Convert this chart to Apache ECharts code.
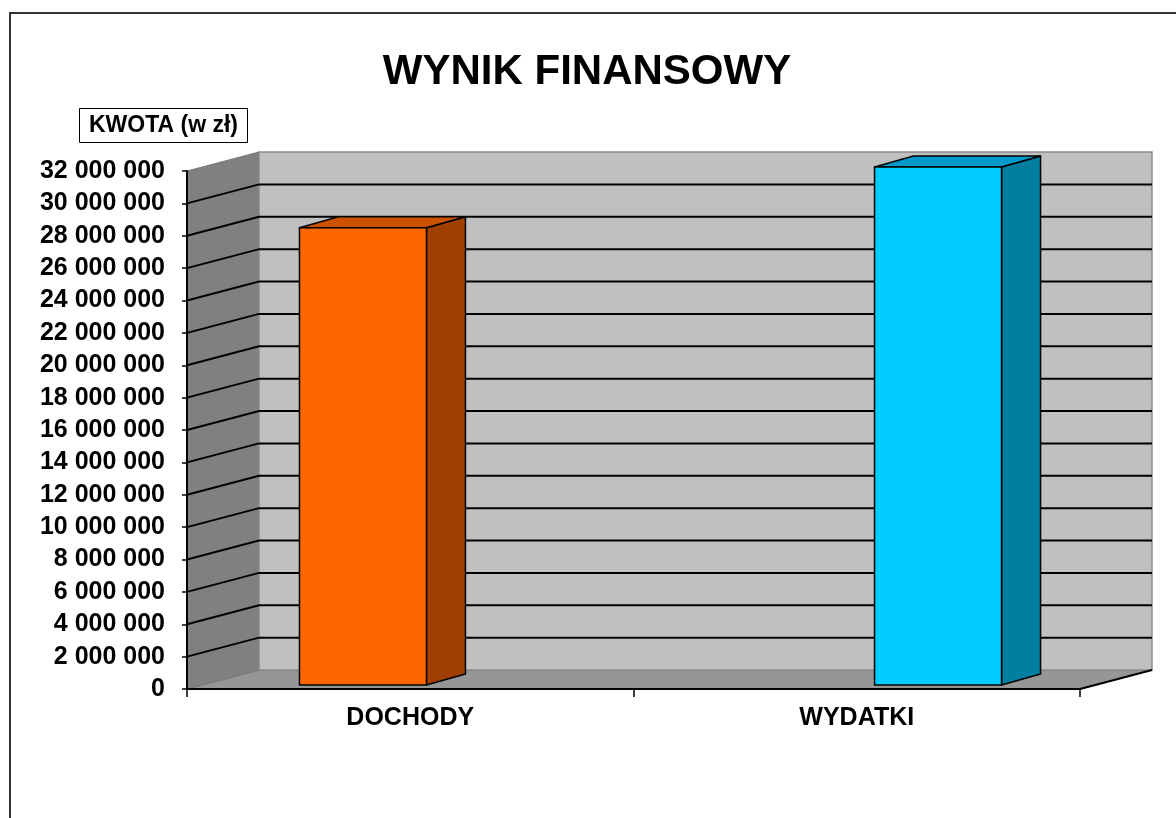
<!DOCTYPE html>
<html>
<head>
<meta charset="utf-8">
<title>WYNIK FINANSOWY</title>
<script src="https://cdn.jsdelivr.net/npm/echarts@6/dist/echarts.min.js"></script>
<style>
  html, body { margin: 0; padding: 0; background: #fff; }
  #chart { width: 1176px; height: 818px; }
</style>
</head>
<body>
<div id="chart"></div>
<script>
const categories = ["DOCHODY", "WYDATKI"];
const values = [28250000, 32000000];
const yMin = 0;
const yMax = 32000000;
const yStep = 2000000;

// face colours: front, top, side
const barColors = [
  ["#FF6600", "#CC5200", "#A04000"],
  ["#00CCFF", "#0099CC", "#007FA0"],
];

const FONT = '"Liberation Sans", Arial, sans-serif';
const WALL_DX = 72;
const WALL_DY = -19;
const BAR_DX = 39;
const BAR_DY = -11;
const BAR_W = 127;

function fmt(v) {
  return String(v).replace(/\B(?=(\d{3})+(?!\d))/g, " ");
}

const chart = echarts.init(document.getElementById("chart"));

function renderWalls(params, api) {
  const cs = params.coordSys;
  const x0 = cs.x, x1 = cs.x + cs.width;
  const yT = cs.y, yB = cs.y + cs.height;
  const children = [];
  // floor
  children.push({
    type: "polygon",
    shape: { points: [[x0, yB], [x1, yB], [x1 + WALL_DX, yB + WALL_DY], [x0 + WALL_DX, yB + WALL_DY]] },
    style: { fill: "#969696", stroke: "#6e6e6e", lineWidth: 1 },
  });
  // side wall
  children.push({
    type: "polygon",
    shape: { points: [[x0, yB], [x0, yT], [x0 + WALL_DX, yT + WALL_DY], [x0 + WALL_DX, yB + WALL_DY]] },
    style: { fill: "#808080", stroke: "#777", lineWidth: 1 },
  });
  // back wall
  children.push({
    type: "rect",
    shape: { x: x0 + WALL_DX, y: yT + WALL_DY, width: x1 - x0, height: yB - yT },
    style: { fill: "#C0C0C0", stroke: "#8a8a8a", lineWidth: 1.5 },
  });
  // gridlines
  for (let v = yMin + yStep; v < yMax; v += yStep) {
    const y = api.coord([0, v])[1];
    children.push({
      type: "polyline",
      shape: { points: [[x0, y], [x0 + WALL_DX, y + WALL_DY], [x1 + WALL_DX, y + WALL_DY]] },
      style: { stroke: "#000", lineWidth: 2, fill: null },
    });
  }
  // right floor edge
  children.push({
    type: "line",
    shape: { x1: x1, y1: yB, x2: x1 + WALL_DX, y2: yB + WALL_DY },
    style: { stroke: "#000", lineWidth: 2 },
  });
  return { type: "group", children: children };
}

function renderBar(params, api) {
  const cs = params.coordSys;
  const mid = cs.x + cs.width / 2;
  const idx = api.value(0);
  const base = api.coord([idx, 0]);
  const top = api.coord([idx, api.value(1)]);
  const c = base[0] + (base[0] - mid) * 0.288 + 17;
  const xl = c - BAR_W / 2, xr = c + BAR_W / 2;
  const yb = base[1] - 4, yt = top[1] - 4;
  const col = barColors[params.dataIndex];
  const line = { stroke: "#000", lineWidth: 1.5, lineJoin: "round" };
  return {
    type: "group",
    children: [
      {
        type: "polygon",
        shape: { points: [[xr, yb], [xr, yt], [xr + BAR_DX, yt + BAR_DY], [xr + BAR_DX, yb + BAR_DY]] },
        style: Object.assign({ fill: col[2] }, line),
      },
      {
        type: "polygon",
        shape: { points: [[xl, yt], [xr, yt], [xr + BAR_DX, yt + BAR_DY], [xl + BAR_DX, yt + BAR_DY]] },
        style: Object.assign({ fill: col[1] }, line),
      },
      {
        type: "rect",
        shape: { x: xl, y: yt, width: BAR_W, height: yb - yt },
        style: Object.assign({ fill: col[0] }, line),
      },
    ],
  };
}

const option = {
  animation: false,
  backgroundColor: "#fff",
  grid: { left: 187, right: 96, top: 171, bottom: 129 },
  graphic: [
    {
      type: "rect",
      shape: { x: 10, y: 13, width: 1300, height: 1000 },
      style: { fill: null, stroke: "#333", lineWidth: 2 },
      z: 100,
    },
    {
      type: "text",
      x: 587,
      y: 72,
      style: {
        text: "WYNIK FINANSOWY",
        font: "bold 42px " + FONT,
        textAlign: "center",
        textVerticalAlign: "middle",
        fill: "#000",
      },
    },
    {
      type: "rect",
      shape: { x: 79.5, y: 108.5, width: 168, height: 34 },
      style: { fill: "#fff", stroke: "#000", lineWidth: 1 },
    },
    {
      type: "text",
      x: 163.5,
      y: 126,
      style: {
        text: "KWOTA (w zł)",
        font: "bold 23px " + FONT,
        textAlign: "center",
        textVerticalAlign: "middle",
        fill: "#000",
      },
    },
  ],
  xAxis: {
    type: "category",
    data: categories,
    z: 10,
    axisLine: { lineStyle: { color: "#000", width: 2 } },
    axisTick: { show: true, length: 8, lineStyle: { color: "#000", width: 1.5 } },
    axisLabel: {
      color: "#000",
      fontFamily: FONT,
      fontWeight: "bold",
      fontSize: 25,
      margin: 17,
    },
    splitLine: { show: false },
  },
  yAxis: {
    type: "value",
    min: yMin,
    max: yMax,
    interval: yStep,
    z: 10,
    axisLine: { show: true, lineStyle: { color: "#000", width: 2 } },
    axisTick: { show: true, length: 5, lineStyle: { color: "#000", width: 1.5 } },
    axisLabel: {
      color: "#000",
      fontFamily: FONT,
      fontWeight: "bold",
      fontSize: 25,
      margin: 22,
      formatter: fmt,
    },
    splitLine: { show: false },
  },
  series: [
    {
      type: "custom",
      name: "walls",
      silent: true,
      clip: false,
      z: 1,
      renderItem: renderWalls,
      data: [[0, 0]],
    },
    {
      type: "custom",
      name: "KWOTA",
      clip: false,
      z: 3,
      renderItem: renderBar,
      data: values.map((v, i) => [i, v]),
    },
  ],
};

chart.setOption(option);
</script>
</body>
</html>
